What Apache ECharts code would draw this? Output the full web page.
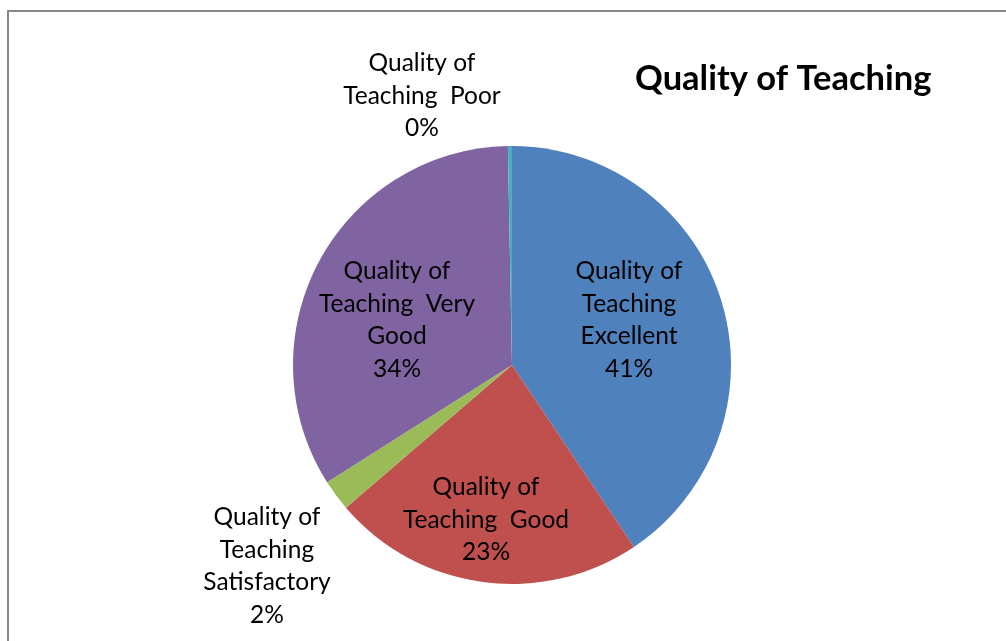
<!DOCTYPE html>
<html>
<head>
<meta charset="utf-8">
<script src="https://cdn.jsdelivr.net/npm/echarts@6/dist/echarts.min.js"></script>
<style>
  html, body { margin: 0; padding: 0; background: #fff; }
  #chart { width: 1006px; height: 641px; }
</style>
</head>
<body>
<div id="chart"></div>
<script>
// slice order: clockwise from 12 o'clock
const categories = ['Excellent', 'Good', 'Satisfactory', 'Very Good', 'Poor']
const shares = [40.6, 23.1, 2.3, 33.7, 0.3]
const labelTexts = [
  'Quality of\nTeaching\nExcellent',
  'Quality of\nTeaching  Good',
  'Quality of\nTeaching\nSatisfactory',
  'Quality of\nTeaching  Very\nGood',
  'Quality of\nTeaching  Poor'
]
const colors = ['#4f81bd', '#c0504d', '#9bbb59', '#8064a2', '#4bacc6']

// label centres, Excel style placement
const labelSpots = [[629, 320], [486, 520], [267, 566], [397, 320], [422, 96]]

const chart = echarts.init(document.getElementById('chart'))

chart.setOption({
  animation: false,
  title: {
    text: 'Quality of Teaching',
    left: 630,
    top: 56,
    textStyle: { fontFamily: 'Lato', fontWeight: 'bold', fontSize: 34.5, color: '#000' }
  },
  graphic: [{
    type: 'rect',
    shape: { x: 8, y: 11, width: 1100, height: 700 },
    style: { fill: 'none', stroke: '#878787', lineWidth: 2 },
    silent: true
  }],
  series: [{
    type: 'pie',
    center: [512, 365],
    radius: 219,
    startAngle: 90,
    clockwise: true,
    data: categories.map((c, i) => ({ name: c, value: shares[i], itemStyle: { color: colors[i] } })),
    label: {
      show: true,
      position: 'inside',
      fontFamily: 'Lato',
      fontSize: 24.5,
      lineHeight: 32.5,
      color: '#000',
      align: 'center',
      formatter: p => labelTexts[p.dataIndex] + '\n' + Math.round(p.percent) + '%'
    },
    labelLine: { show: false },
    labelLayout: p => {
      const s = labelSpots[p.dataIndex]
      return { x: s[0], y: s[1], align: 'center', verticalAlign: 'middle' }
    },
    emphasis: { disabled: true }
  }]
})
</script>
</body>
</html>
